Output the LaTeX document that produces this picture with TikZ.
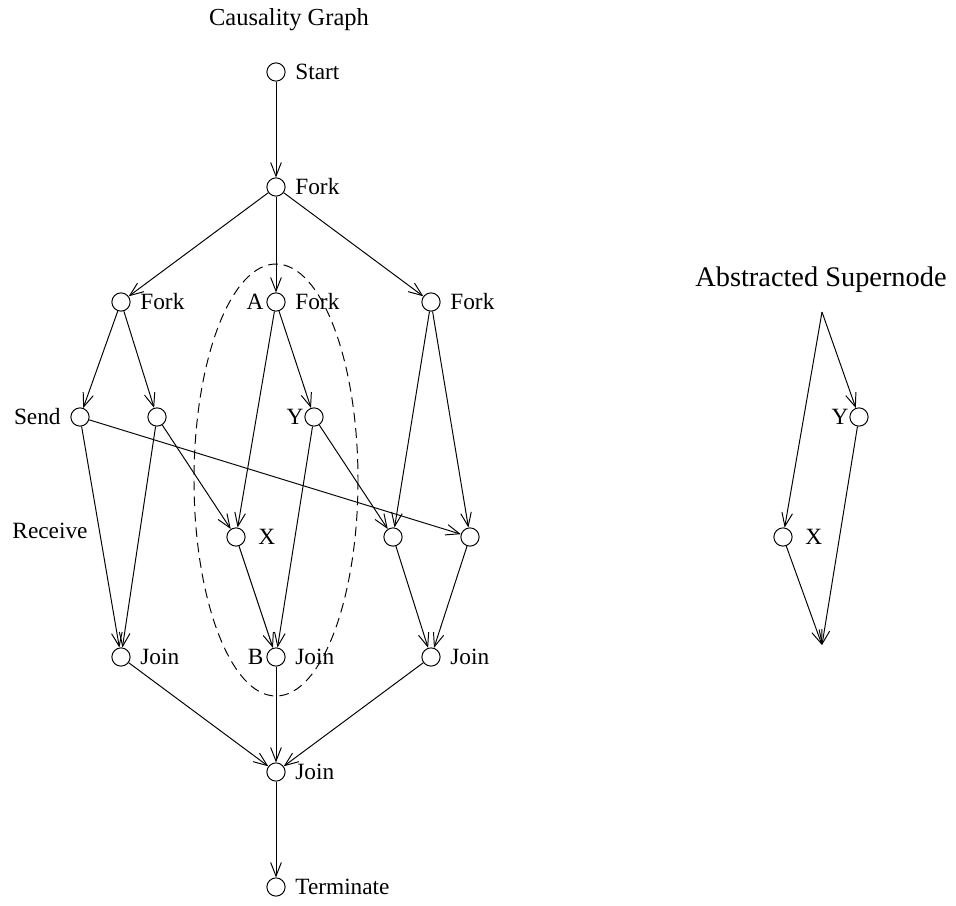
\documentclass[tikz,border=0pt]{standalone}
\usepackage{fontspec}
\setmainfont{Liberation Serif}
\usetikzlibrary{arrows.meta}

\begin{document}
\begin{tikzpicture}[x=0.0181cm, y=-0.0181cm, font=\large,
    >={Straight Barb[length=7pt, width=5.5pt]}]
  % Style des sommets (petits cercles) et des fleches
  \tikzset{ sommet/.style={circle, draw, line width=0.5pt, minimum size=0.33cm, inner sep=0pt},
    fleche/.style={->, line width=0.5pt},
    every label/.style={label distance=1.5pt} }
  \useasboundingbox (0,0) rectangle (956,905);

  \node[font=\fontsize{12.6}{15}\selectfont] (titre) at (289,20) {Causality Graph};
  \node[sommet, label=right:Start] (debut) at (276,72) {};
  \node[sommet, label=right:Fork] (f0) at (276,187) {};
  \node[sommet, label=right:Fork] (fg) at (121,302) {};
  \node[sommet, label={[label distance=-2pt]left:A}, label=right:Fork] (fm) at (276,302) {};
  \node[sommet, label=right:Fork] (fd) at (431,302) {};
  \node[sommet, label=left:Send] (send) at (80,417) {};
  \node[sommet] (n2) at (157,417) {};
  \node[sommet, label={[label distance=-3pt]left:Y}] (y) at (314,417) {};
  \node (recv) at (50,531) {Receive};
  \node[sommet, label={[label distance=3pt]right:X}] (x) at (236,537) {};
  \node[sommet] (r1) at (393,537) {};
  \node[sommet] (r2) at (470,537) {};
  \node[sommet, label=right:Join] (jg) at (121,657) {};
  \node[sommet, label={[label distance=-2pt]left:B}, label=right:Join] (jm) at (276,657) {};
  \node[sommet, label=right:Join] (jd) at (431,657) {};
  \node[sommet, label=right:Join] (j0) at (276,772) {};
  \node[sommet, label=right:Terminate] (fin) at (276,887) {};

  \foreach \a/\b in {debut/f0, f0/fg, f0/fm, f0/fd, fg/send, fg/n2, fm/x, fm/y,
      fd/r1, fd/r2, send/jg, send/r2, n2/jg, n2/x, y/jm, y/r1, x/jm, r1/jd, r2/jd,
      jg/j0, jm/j0, jd/j0, j0/fin}
    \draw[fleche] (\a) -- (\b);

  \draw[dashed, dash pattern=on 5pt off 3pt, line width=0.5pt] (276,480) ellipse [x radius=82, y radius=216];

  % Supernoeud abstrait
  \node[font=\fontsize{14.6}{17}\selectfont] (titre2) at (821,280) {Abstracted Supernode};
  \coordinate (haut) at (822,312);
  \node[sommet, label={[label distance=-3pt]left:Y}] (sy) at (859,417) {};
  \node[sommet, label={[label distance=3pt]right:X}] (sx) at (783,537) {};
  \coordinate (bas) at (822,645);
  \foreach \a/\b in {haut/sy, haut/sx, sx/bas, sy/bas}
    \draw[fleche] (\a) -- (\b);
\end{tikzpicture}
\end{document}
